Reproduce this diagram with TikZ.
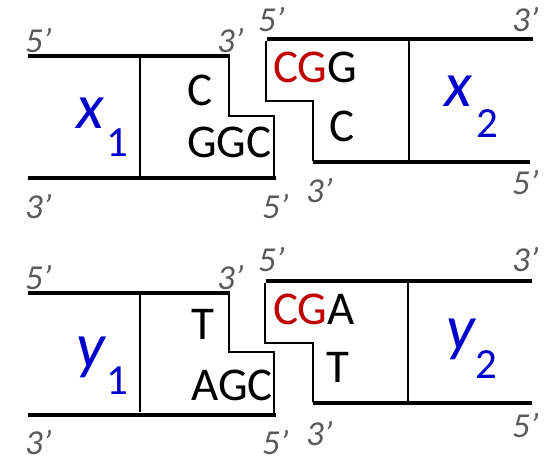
\documentclass[tikz,border=0pt]{standalone}
\usepackage{fontspec}
\setmainfont{Carlito}
\definecolor{endgray}{RGB}{90,90,90}
\definecolor{varblue}{RGB}{0,0,204}
\definecolor{ovred}{RGB}{192,0,0}
\newcommand{\pr}{\char"27\relax}
\tikzset{
  strand/.style={line width=3.2pt},
  thin/.style={line width=1.5pt},
  endlab/.style={anchor=base west,inner sep=0pt,text depth=0pt,text=endgray,font=\fontsize{35}{35}\selectfont\itshape},
  base/.style={anchor=base west,inner sep=0pt,font=\fontsize{47}{47}\selectfont},
  var/.style={anchor=base west,inner sep=0pt,text=varblue,font=\fontsize{64}{64}\selectfont\itshape},
  sub/.style={anchor=base west,inner sep=0pt,text=varblue,font=\fontsize{43}{43}\selectfont},
}
\begin{document}
\begin{tikzpicture}[x=1pt,y=-1pt]
\useasboundingbox (0,0) rectangle (549,462);
% ---------- top panel ----------
% left duplex x1
\draw[strand] (28,56) -- (230,56);
\draw[strand] (28,178) -- (276,178);
\draw[thin] (140,57) -- (140,176);
\draw[thin] (229,57) -- (229,116) -- (274,116) -- (274,177);
\node[endlab] (a1) at (25,53) {5\pr};
\node[endlab] (a2) at (217,53) {3\pr};
\node[endlab] (a3) at (25,219) {3\pr};
\node[endlab] (a4) at (262,219) {5\pr};
\node[base] (a5) at (187,106) {C};
\node[base] (a6) at (187,158) {GGC};
\node[var] (a7) at (76,129) {x};
\node[sub] (a8) at (106,157) {1};
% right duplex x2
\draw[strand] (267,39) -- (533,39);
\draw[strand] (313,162) -- (530,162);
\draw[thin] (409,41) -- (409,161);
\draw[thin] (266,41) -- (266,101) -- (313,101) -- (313,161);
\node[endlab] (b1) at (258,32) {5\pr};
\node[endlab] (b2) at (512,32) {3\pr};
\node[endlab] (b3) at (306,203) {3\pr};
\node[endlab] (b4) at (512,195) {5\pr};
\node[base] (b5) at (273,83) {\textcolor{ovred}{CG}G};
\node[base] (b6) at (329,142) {C};
\node[var] (b7) at (444,107) {x};
\node[sub] (b8) at (476,138) {2};
% ---------- bottom panel ----------
% left duplex y1
\draw[strand] (28,293) -- (230,293);
\draw[strand] (28,415) -- (276,415);
\draw[thin] (140,294) -- (140,412);
\draw[thin] (229,294) -- (229,352) -- (274,352) -- (274,413);
\node[endlab] (c1) at (25,290) {5\pr};
\node[endlab] (c2) at (217,290) {3\pr};
\node[endlab] (c3) at (25,454) {3\pr};
\node[endlab] (c4) at (262,454) {5\pr};
\node[base] (c5) at (191,340) {T};
\node[base] (c6) at (191,400) {AGC};
\node[var] (c7) at (76,367) {y};
\node[sub] (c8) at (106,395) {1};
% right duplex y2
\draw[strand] (266,281) -- (532,281);
\draw[strand] (313,403) -- (532,403);
\draw[thin] (408,283) -- (408,402);
\draw[thin] (265,283) -- (265,343) -- (313,343) -- (313,402);
\node[endlab] (d1) at (258,272) {5\pr};
\node[endlab] (d2) at (512,272) {3\pr};
\node[endlab] (d3) at (306,445) {3\pr};
\node[endlab] (d4) at (512,437) {5\pr};
\node[base] (d5) at (273,325) {\textcolor{ovred}{CG}A};
\node[base] (d6) at (326,382) {T};
\node[var] (d7) at (446,350) {y};
\node[sub] (d8) at (475,378) {2};
\end{tikzpicture}
\end{document}
